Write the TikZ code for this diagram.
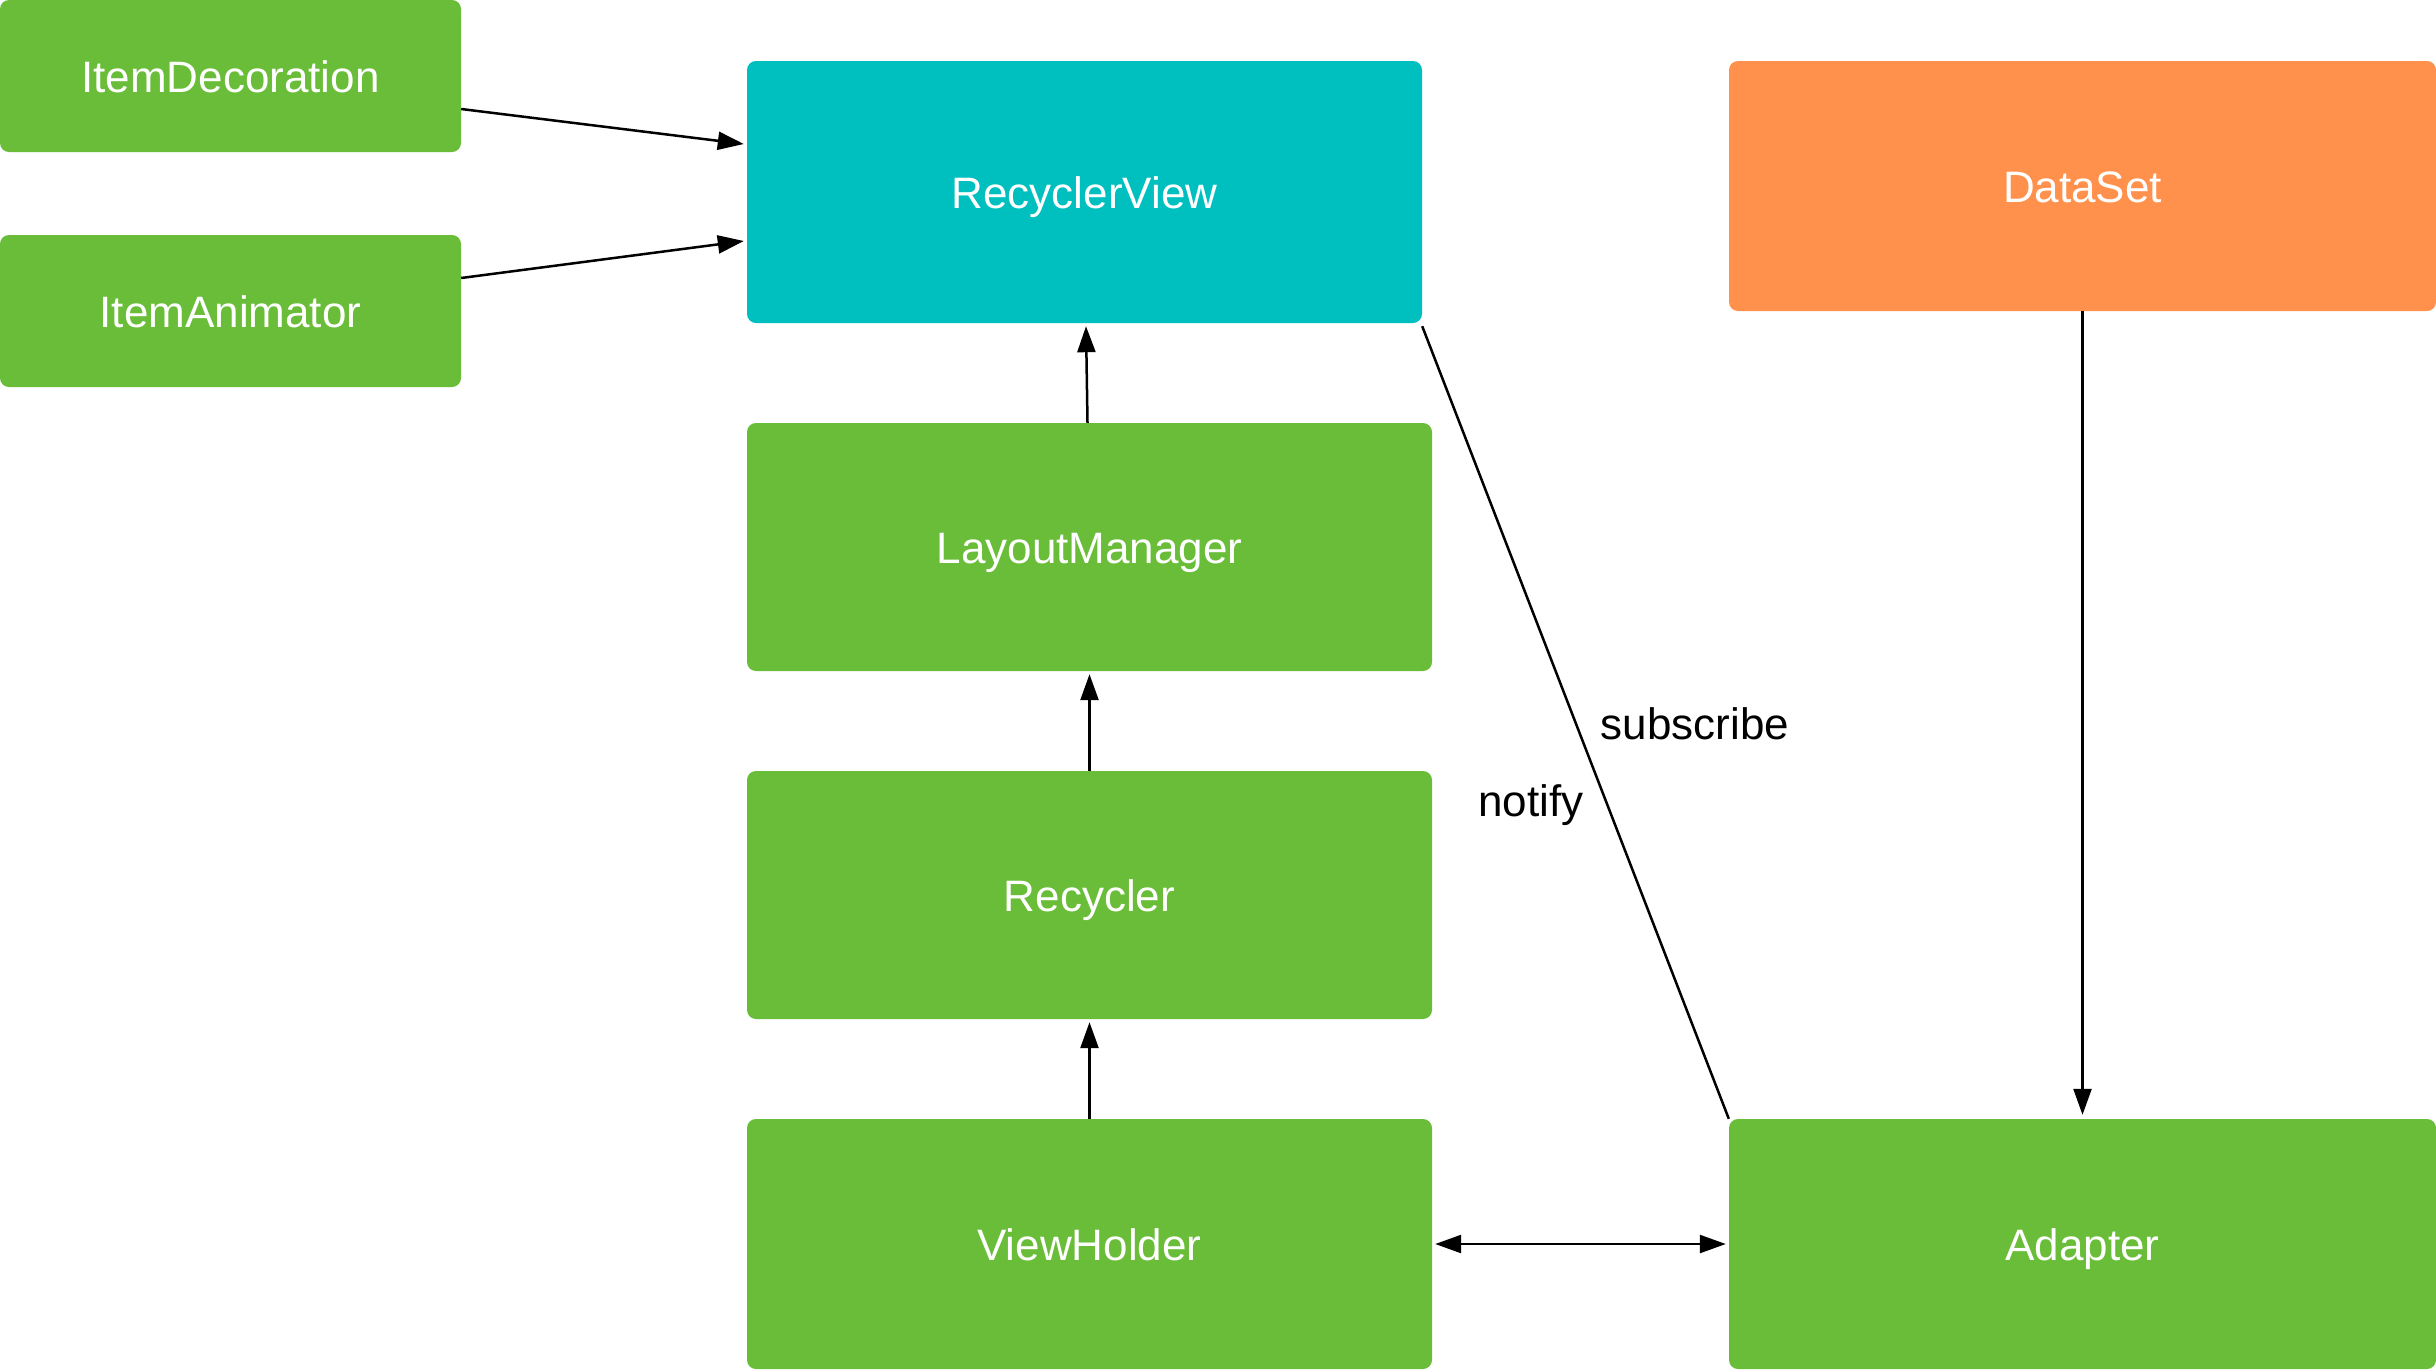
\documentclass[tikz,border=0pt]{standalone}
\usepackage{fontspec}
\setmainfont{Liberation Sans}
\usetikzlibrary{arrows.meta}
\definecolor{boxgreen}{RGB}{106,189,56}
\definecolor{boxcyan}{RGB}{0,191,191}
\definecolor{boxorange}{RGB}{255,145,77}
\begin{document}
\begin{tikzpicture}[x=1pt,y=-1pt,
  box/.style={rectangle, rounded corners=9pt, inner sep=0pt, text=white,
    text height=32pt, text depth=0pt,
    font=\fontsize{44}{53}\selectfont},
  lbl/.style={font=\fontsize{44}{53}\selectfont, text=black, inner sep=0pt},
  conn/.style={line width=2.5pt, draw=black},
  arr/.style={conn, -{Triangle[length=26pt,width=18pt]}},
  darr/.style={conn, {Triangle[length=26pt,width=18pt]}-{Triangle[length=26pt,width=18pt]}}
]
\useasboundingbox (0,0) rectangle (2436,1369);
\fill[white] (0,0) rectangle (2436,1369);

\node[box, fill=boxgreen, minimum width=461pt, minimum height=152pt] (idec) at (230.5,76) {ItemDecoration};
\node[box, fill=boxgreen, minimum width=461pt, minimum height=152pt] (ianim) at (230.5,311) {ItemAnimator};
\node[box, fill=boxcyan, minimum width=675pt, minimum height=262pt] (rv) at (1084.5,192) {RecyclerView};
\node[box, fill=boxorange, minimum width=707pt, minimum height=250pt] (ds) at (2082.5,186) {DataSet};
\node[box, fill=boxgreen, minimum width=685pt, minimum height=248pt] (lm) at (1089.5,547) {LayoutManager};
\node[box, fill=boxgreen, minimum width=685pt, minimum height=248pt] (rec) at (1089.5,895) {Recycler};
\node[box, fill=boxgreen, minimum width=685pt, minimum height=250pt] (vh) at (1089.5,1244) {ViewHolder};
\node[box, fill=boxgreen, minimum width=707pt, minimum height=250pt] (ad) at (2082.5,1244) {Adapter};

\draw[arr] ([yshift=-33pt]idec.east) -- ([xshift=-3pt,yshift=48pt]rv.west);
\draw[arr] ([yshift=33pt]ianim.east) -- ([xshift=-3pt,yshift=-49pt]rv.west);
\draw[arr] ([xshift=-2pt]lm.north) -- ([xshift=1.5pt,yshift=-3pt]rv.south);
\draw[arr] (rec.north) -- ([yshift=-3pt]lm.south);
\draw[arr] (vh.north) -- ([yshift=-3pt]rec.south);
\draw[darr, shorten <=3pt, shorten >=3pt] (vh.east) -- (ad.west);
\draw[arr, shorten >=4pt] (ds.south) -- (ad.north);
\draw[conn] ([yshift=-3pt]rv.south east) -- (ad.north west);

\node[lbl] (sub) at (1695,724) {subscribe};
\node[lbl] (ntf) at (1531,805) {notify};
\end{tikzpicture}
\end{document}
